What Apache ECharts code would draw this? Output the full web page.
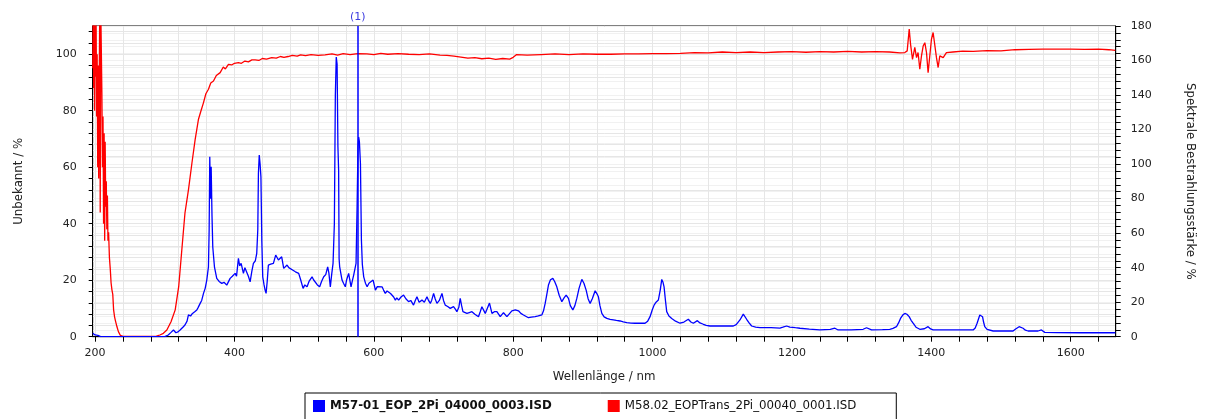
<!DOCTYPE html>
<html>
<head>
<meta charset="utf-8">
<script src="https://cdn.jsdelivr.net/npm/echarts@6/dist/echarts.min.js"></script>
<style>
html,body{margin:0;padding:0;background:#fff;}
#chart{width:1207px;height:419px;}
</style>
</head>
<body>
<div id="chart"></div>
<script>
// ---- data ----
const redName = 'M58.02_EOPTrans_2Pi_00040_0001.ISD';
const blueName = 'M57-01_EOP_2Pi_04000_0003.ISD';

const redWavelength = [196.7,197.3,198,198.6,199.3,200,200.7,201.4,202.2,203,203.8,204.5,205.2,206,206.7,207.4,208.2,209,209.8,210.6,211.4,212.2,213,213.8,214.5,215.3,216.1,216.9,217.7,218.5,219.4,220.6,221.8,223,224.2,225.4,226.6,228,229,231.4,233.5,236.2,240,250,270,288,293,298,303,309,315,320,324.5,329,334,339,343.6,348.4,352,355.5,359,362.7,366,369.9,374,379.5,384,387,391.4,396,400,405.7,410,415,420,425,429.7,435,440,446,453.5,460,466,471,477,483,490,495,502,510,520,530,540,548,556,566,577,590,600,610,620,635,650,665,680,695,705,715,725,735,745,755,765,775,785,795,800,805,820,840,860,880,900,920,940,960,980,1000,1020,1040,1060,1080,1100,1120,1140,1160,1180,1200,1220,1240,1260,1280,1300,1320,1340,1355,1362,1365.4,1368.3,1370.2,1373,1376.3,1378.8,1381,1383.5,1385.9,1388.3,1390.7,1393.1,1395.4,1397.8,1400.2,1402.6,1405,1407.4,1409.8,1412.2,1417,1421.7,1431,1445,1460,1480,1500,1520,1540,1560,1580,1600,1620,1640,1655,1664];
const redValues = [95,116,88,116,80,110,92,116,78,100,60,96,56,90,116,44,116,116,86,60,78,40,72,34,69,46,55,38,50,34,37,28,24,19,16.6,15,9.5,7,5.9,3.5,1.8,0.5,0.1,0.1,0.1,0.2,0.6,1.2,2.4,5.3,9.5,17.7,30.8,43.8,52,61.5,69.8,77,80,82.8,86,87.6,89.8,90.5,92.5,93.5,95.5,94.8,96.4,96.2,96.8,97,96.8,97.6,97.3,98.0,98,97.8,98.5,98.3,98.8,98.6,99.2,98.9,99.2,99.6,99.3,99.8,99.5,99.9,99.6,99.8,100.1,99.7,100.2,99.9,100.2,100.1,99.9,100.3,100.0,100.2,100.0,99.9,100.1,99.7,99.6,99.3,99.0,98.6,98.8,98.4,98.6,98.2,98.5,98.3,98.9,99.9,99.7,99.9,100.1,99.9,100.1,100.0,100.0,100.1,100.1,100.2,100.2,100.3,100.6,100.5,100.8,100.6,100.8,100.6,100.8,100.9,100.7,100.9,100.8,101.0,100.8,100.9,100.8,100.5,100.6,101.2,108.9,103.6,98.2,102.4,98.8,100.6,94.7,99.4,102.9,104.1,100.6,93.5,99.4,105.3,107.7,107.9,98.8,95.3,99.4,98.8,100.6,100.8,101.1,101.0,101.3,101.2,101.6,101.7,101.8,101.8,101.8,101.7,101.8,101.6,101.4];

const blueWavelength = [196.7,198,200,202,204,206,208,300,305,309,312.5,316,319,322,326,329,332,334,337,339.8,343,346,348,350.8,353,355.6,358,360.3,362.7,363.7,364.6,365.6,366.6,367.8,368.9,371.3,374.6,378,381.8,385,389,391.5,393.8,397,401,403,405.7,407.5,409.6,412.9,415,417.6,420,422.5,425,427.2,430,432,433.5,434.4,435.6,436.8,438,439.3,440.6,442.5,444,445.4,447,448.7,452,455.9,459.2,463.1,465,467.8,470.7,472.7,475.5,478,480.3,484,487.5,492.2,495,498.5,501,504.2,507,511.4,513.5,516.1,519,522.3,525,528.1,531,533.8,535.5,537.6,539.5,541.5,543.4,544.8,546.1,547.3,548.5,549.5,550.2,551,554.4,556.5,559.1,561,563.9,565.5,567.3,569,571.1,574.5,576,577.3,578.3,579.3,580.8,582.2,583.5,585.5,588,590.4,593,595.1,599,602.3,605,607,611.8,614,616.5,619,621.2,624,626.1,628.5,630.9,633,635.6,639,642.7,646,649.9,653,657,659.5,661.9,665,669.1,672.5,676.3,678.5,681,683,685.8,688,690.6,694,697.8,700,702.5,706,709.7,714.4,717,719.2,722,724,726,727.9,733.6,737,740.8,745,750.2,752.7,755.1,757.4,759.9,762.3,766,769.5,773,776.6,781.4,786.1,791,798.1,803,807.6,811,814.8,821.9,826,831.5,836,841.1,843.5,845.9,848,850.6,853.5,856.9,859.5,862.6,866,869.8,873,876,879.3,882,885.6,888.5,891.3,894.5,898.5,901.5,904.7,907.5,910.4,913.5,917.6,920,922.3,924.5,927.2,930.5,934.4,939,943.8,948,953.4,958,963,969,974.9,982,989.2,993,996.4,999.5,1002.2,1005,1008.3,1011,1013.2,1015,1016.5,1018.5,1020.3,1023.5,1027.5,1033,1039.4,1045,1051.3,1055,1058.5,1061,1064.3,1068,1072.9,1077,1082.5,1100,1115.9,1120,1125.4,1130.2,1132.5,1135,1138.5,1142.2,1148,1154.1,1170,1182.8,1187,1192.4,1197,1205,1211.5,1225,1240,1255,1261.6,1266.3,1285,1302.2,1307,1314.2,1330,1340.4,1345,1350,1353,1355.8,1359,1362,1365,1368.2,1371,1373.9,1378,1383.5,1390,1395.4,1399,1402.6,1420,1440,1460,1463,1465.7,1469.6,1471.5,1473.5,1475,1476.7,1480,1488.7,1500,1517.3,1521,1526,1528.5,1531.7,1535,1538.9,1553.2,1558,1562.8,1580,1613,1640,1664];
const blueValues = [2,1.5,1,0.5,0.8,0.3,0,0,1,2.5,3.9,2.3,2.8,3.9,5.5,6.8,9,12.6,12,13.5,14.5,15.5,17,19.3,21,25.1,28,32.8,40.5,61.7,104.2,80,98.4,70,52,40.5,33.8,32,30.9,31.5,29.9,31,33.8,35,36.7,35,45.4,41,42.5,36.7,40,40.5,35,31.8,38,42.5,44,48.3,62,94.6,105.2,100,92.6,55,34.7,30,27,25.1,32,41.5,42,42.5,47.3,44.4,45.4,46.3,39.6,40,41.5,40,39.6,38.5,37.6,36.7,33,28,30,28.9,32,34.7,33,33.8,30,28.9,32,34.7,36,40.5,37,28.9,36,42.5,65.6,140,162,158,110,96.5,45,40.5,32.8,31,28.9,33,36.7,33,28.9,32,35.7,42.5,75.2,110,115.6,113,100.3,56,42,34.7,31,28.9,31,29.9,32.8,27,29,29.9,28.9,27,25.1,26.5,27,25,26,23,21.2,22.5,21.2,23,24.1,22,20.3,21,18.3,21,23.1,20,21.2,20,23.1,21,19.3,21,25.1,22,19.3,21,25.1,21,18.3,17.5,16.4,17.4,16,14.5,17,22.2,18,14.5,13.5,14,14.5,13,11.6,14.5,17.4,16.4,13.5,14.5,19.5,13.5,14.5,14.5,11.6,13.9,11.6,15,15.5,15,13.5,12.6,11,11.3,11.6,12,12.6,15,19.3,24,29.9,33,33.8,32,28.9,24,20.3,22.5,24.1,22.2,18,15.5,18,22.2,28,33.2,31,27,22,19.3,22,26.6,25,23.1,18,13.5,11.5,10.6,10,9.7,9.4,9.1,8.6,8.1,7.9,7.8,7.8,7.8,9,11.6,15.5,18.3,20,21.2,27,33.2,31.5,28.9,21,14.5,12,10.6,9,7.8,8.5,10.1,8.5,7.8,8.5,9.3,8,7.2,6.6,6.2,6.2,6.2,7,9.7,13.1,12.5,10.1,8,6.2,5.5,5.2,5.2,5.0,5.5,6.2,5.6,5.2,4.9,4.4,3.9,4.2,4.9,3.9,4,4.3,5.2,3.9,4.1,4.3,4.8,5.8,8,10.6,12.5,13.5,13,11.6,9.5,7.8,5.5,4.3,4.6,5.8,4.5,3.9,3.9,3.9,3.9,5,7.8,12.6,12.8,11.6,8.5,5.8,4.2,3.3,3.3,3.3,4.5,5.8,5.5,4.9,3.8,3.3,3.3,3.9,2.5,2.4,2.3,2.3,2.3];

const markerWavelength = [577];
const markerLabels = ['(1)'];

// tick labels
const xLabelValues = [200,400,600,800,1000,1200,1400,1600];
const leftLabelValues = [0,20,40,60,80,100];
const rightLabelValues = [0,20,40,60,80,100,120,140,160,180];

function steps(from, to, step){ const a=[]; for(let v=from; v<=to+1e-9; v+=step) a.push(+v.toFixed(3)); return a; }
const xTickValues = steps(200, 1640, 40);
const leftTickValues = steps(0, 108, 4);
const rightTickValues = steps(0, 180, 4);

const zip = (xs, ys) => xs.map((x, i) => [x, ys[i]]);
const plain = v => String(v);

const FONT = 'DejaVu Sans';
const TXT = '#222';

const chart = echarts.init(document.getElementById('chart'), null, {renderer:'canvas'});
chart.setOption({
  animation: false,
  backgroundColor: '#fff',
  grid: {left: 92.7, right: 91.3, top: 26, bottom: 82.3, show: true, borderColor: '#000', borderWidth: 1, backgroundColor: '#fff'},
  legend: {
    left: 305, top: 393, orient: 'horizontal',
    padding: [7, 40, 10, 8], itemGap: 56,
    itemWidth: 12, itemHeight: 12, icon: 'rect',
    borderColor: '#000', borderWidth: 1, backgroundColor: '#fff',
    textStyle: {fontFamily: FONT, fontSize: 11.8, color: '#111'},
    data: [{name: blueName, textStyle: {fontWeight: 'bold'}}, {name: redName}]
  },
  xAxis: {
    type: 'value', min: 196.6, max: 1664.6,
    axisLine: {show: true, lineStyle: {color: '#000', width: 1}},
    axisTick: {show: true, customValues: xTickValues, length: 5, lineStyle: {color: '#000'}},
    axisLabel: {customValues: xLabelValues, formatter: plain, color: TXT, fontFamily: FONT, fontSize: 11, margin: 11},
    splitLine: {show: true, lineStyle: {color: '#e6e6e6', width: 1}},
    name: 'Wellenlänge / nm', nameLocation: 'middle', nameGap: 34,
    nameTextStyle: {fontFamily: FONT, fontSize: 11.8, color: TXT}
  },
  yAxis: [
    {
      type: 'value', min: 0, max: 110, position: 'left',
      axisLine: {show: true, lineStyle: {color: '#000'}},
      axisTick: {show: true, customValues: leftTickValues, length: 4, lineStyle: {color: '#000'}},
      axisLabel: {customValues: leftLabelValues, formatter: plain, color: TXT, fontFamily: FONT, fontSize: 11, margin: 16},
      splitLine: {show: true, lineStyle: {color: '#e6e6e6'}},
      name: 'Unbekannt / %', nameLocation: 'middle', nameGap: 68,
      nameTextStyle: {fontFamily: FONT, fontSize: 11.8, color: TXT}
    },
    {
      type: 'value', min: 0, max: 180, position: 'right',
      axisLine: {show: true, lineStyle: {color: '#000'}},
      axisTick: {show: true, customValues: rightTickValues, length: 5, lineStyle: {color: '#000'}},
      axisLabel: {customValues: rightLabelValues, formatter: plain, color: TXT, fontFamily: FONT, fontSize: 11, margin: 15},
      splitLine: {show: true, lineStyle: {color: '#f1f1f1'}},
      name: 'Spektrale Bestrahlungsstärke / %', nameLocation: 'middle', nameGap: 68, nameRotate: -90,
      nameTextStyle: {fontFamily: FONT, fontSize: 11.8, color: TXT}
    }
  ],
  series: [
    {
      name: redName, type: 'line', yAxisIndex: 0, showSymbol: false, symbol: 'none',
      data: zip(redWavelength, redValues), clip: true,
      lineStyle: {color: '#ff0000', width: 1.3}, itemStyle: {color: '#ff0000'}, z: 3
    },
    {
      name: blueName, type: 'line', yAxisIndex: 1, showSymbol: false, symbol: 'none',
      data: zip(blueWavelength, blueValues), clip: true,
      lineStyle: {color: '#0000ff', width: 1.3}, itemStyle: {color: '#0000ff'}, z: 4,
      markLine: {
        silent: true, symbol: ['none', 'none'], animation: false,
        lineStyle: {color: '#0000ff', width: 1.5, type: 'solid'},
        label: {show: true, position: 'end', distance: 3, formatter: () => markerLabels[0], color: '#3a3adf', fontFamily: FONT, fontSize: 11},
        data: markerWavelength.map(v => ({xAxis: v}))
      }
    }
  ]
});
</script>
</body>
</html>
